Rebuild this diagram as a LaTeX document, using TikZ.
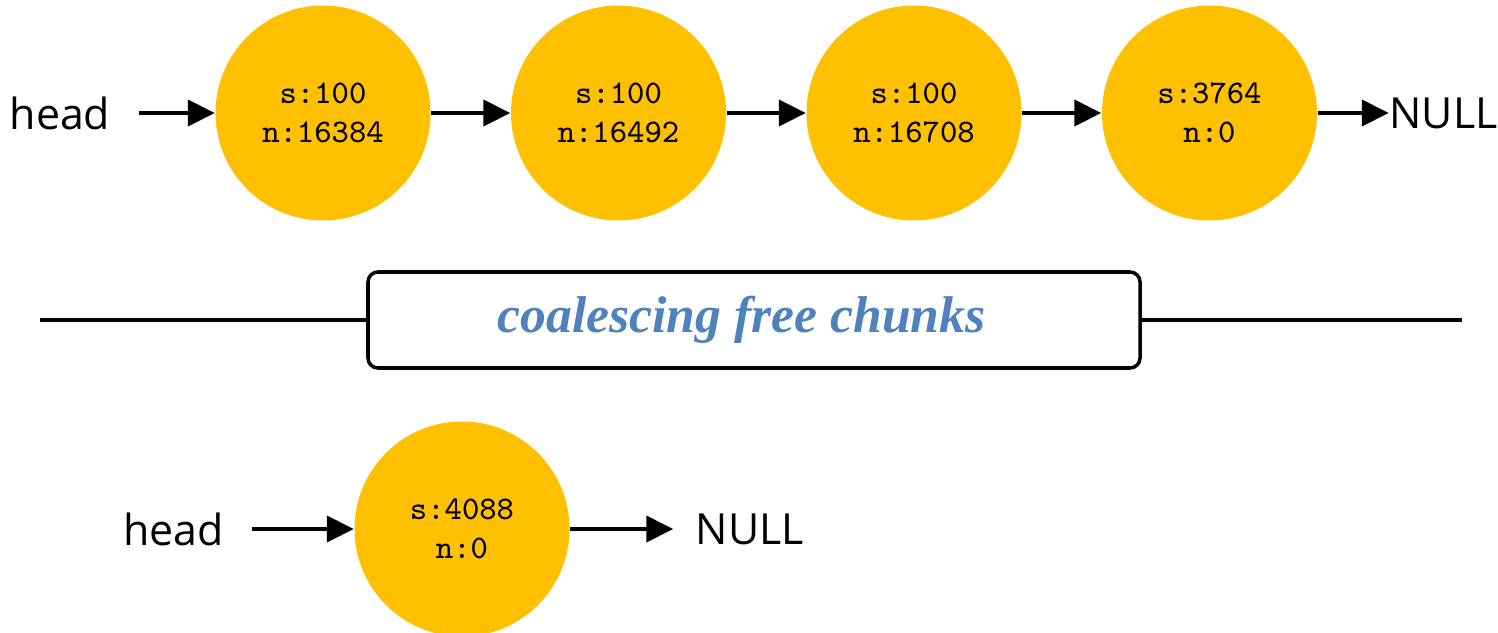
\documentclass[tikz,border=0pt]{standalone}
\usepackage{fontspec}
\setmainfont{Open Sans}
\newfontfamily\titlefont{Liberation Serif}
\usepackage{xcolor}
\usepackage{tikz}
\usetikzlibrary{shapes,arrows.meta}
\usetikzlibrary{positioning}
\definecolor{chunkgold}{HTML}{FFC000}
\definecolor{titleblue}{HTML}{4F81BD}
\tikzstyle{chunk} = [circle, fill=chunkgold, minimum size=2.15cm, inner sep=0pt,
    align=center, font=\ttfamily\fontsize{9.4}{11.2}\selectfont]
\tikzstyle{word} = [inner sep=0pt, font=\fontsize{12.2}{14}\selectfont]
\tikzstyle{line} = [draw, line width=1.1pt, -{Triangle[length=0.27cm,width=0.26cm]}]
\tikzstyle{banner} = [draw, line width=1pt, rounded corners=0.1cm, fill=white,
    minimum width=7.72cm, minimum height=0.96cm,
    text=titleblue, font=\titlefont\bfseries\itshape\fontsize{14.7}{16}\selectfont]

\begin{document}
\begin{tikzpicture}[node distance = 2.955cm]
  \useasboundingbox (0,0) rectangle (14.98,-6.32);

  % Place nodes: list before
  \node [chunk] at (3.23,-1.13) (c1) {s:100\\n:16384};
  \node [chunk, right of=c1] (c2) {s:100\\n:16492};
  \node [chunk, right of=c2] (c3) {s:100\\n:16708};
  \node [chunk, right of=c3] (c4) {s:3764\\n:0};
  \node [word, left of=c1, node distance=2.63cm] (head1) {head};
  \node [word, right of=c4, node distance=2.34cm] (null1) {NULL};

  % Separator with its caption (caption sits a bit left of centre)
  \node [banner] at (7.54,-3.20) (merge) {coalescing free chunks\kern0.25cm};
  \coordinate (sepl) at (0.40,-3.20);
  \coordinate (sepr) at (14.62,-3.20);

  % Place nodes: list after
  \node [chunk] at (4.62,-5.29) (c5) {s:4088\\n:0};
  \node [word, left of=c5, node distance=2.885cm] (head2) {head};
  \node [word, right of=c5, node distance=2.88cm] (null2) {NULL};

  % Draw edges
  \path [line, shorten <=0.28cm] (head1) -- (c1);
  \path [line] (c1) -- (c2);
  \path [line] (c2) -- (c3);
  \path [line] (c3) -- (c4);
  \path [line] (c4) -- (null1);
  \draw [line width=0.9pt] (sepl) -- (merge) -- (sepr);
  \path [line, shorten <=0.28cm] (head2) -- (c5);
  \path [line, shorten >=0.22cm] (c5) -- (null2);
\end{tikzpicture}
\end{document}
